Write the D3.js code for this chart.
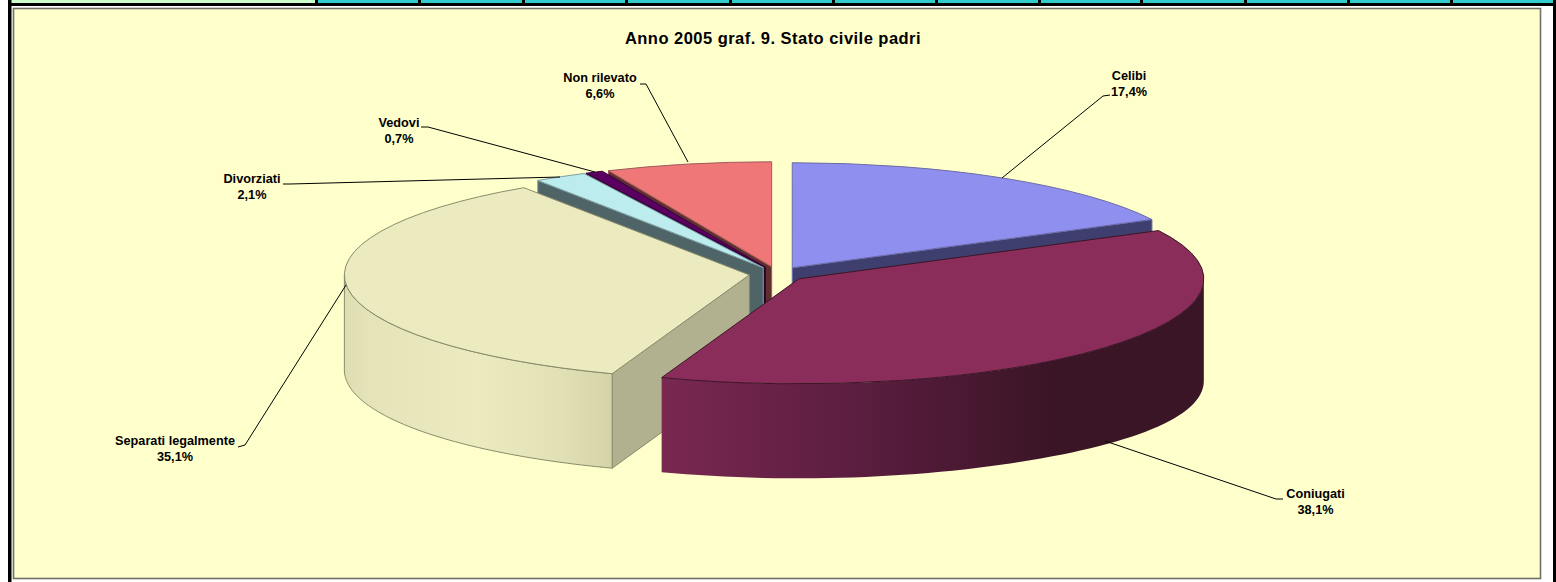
<!DOCTYPE html>
<html><head><meta charset="utf-8">
<script src="https://d3js.org/d3.v7.min.js"></script>
<style>html,body{margin:0;padding:0;background:#fff;overflow:hidden}svg{display:block}</style>
</head><body><div id="chart"></div>
<script>
// DATA
const categories = ["Celibi","Coniugati","Separati legalmente","Divorziati","Vedovi","Non rilevato"];
const percent = [17.4,38.1,35.1,2.1,0.7,6.6];
const percentLabels = ["17,4%","38,1%","35,1%","2,1%","0,7%","6,6%"];
const title = "Anno 2005 graf. 9. Stato civile padri";
const topColors = ["#8F8FEF","#8B2D5B","#ECEBBF","#BCECEE","#5A0060","#EF7777"];
const wallColors = ["#3F3F6F","#5c1e40","#B1B08F","#4F6466","#22002A","#5F2F30"];
const edgeColors = ["#6c6ca8","#3a1526","#8b8b6c","#7d9ea0","#3a0040","#a05a5a"];

// LAYOUT
const W=1556,H=582;
const cx=777.5,cy=274,rx=405,ry=105,explode=0.07,apexDepth=94;
const depthAt=a=>{const s=Math.sin(a);return 94.5+(s>0?7.5:0.5)*Math.pow(s,4);};
const labelCenters=[[1129,80],[1315.5,498],[175,445],[252,183],[399,127],[600,82]];
const leaders=[
 [[1110,95],[1103,96],[1002,178]],
 [[1283,499],[1276,499],[1105,441]],
 [[238,447],[245,445],[346,285]],
 [[283,184],[290,184],[560,177]],
 [[421,127],[428,127],[595,172]],
 [[640,84],[646,84],[688,162]]
];
const dividers=[11,316,419,523,626,730,833,936,1039,1141,1245,1348,1451,1553];

const svg=d3.select("#chart").append("svg").attr("width",W).attr("height",H);
const defs=svg.append("defs");
function hgrad(id,x1,x2,stops){
  const g=defs.append("linearGradient").attr("id",id).attr("gradientUnits","userSpaceOnUse")
    .attr("x1",x1).attr("x2",x2).attr("y1",0).attr("y2",0);
  stops.forEach(([o,c])=>g.append("stop").attr("offset",o).attr("stop-color",c));
}
hgrad("wall1",661,1205,[[0,"#7a2851"],[0.35,"#5c1e40"],[0.72,"#3a1526"],[1,"#3a1526"]]);
hgrad("wall2",343,612,[[0,"#DEDDB2"],[0.1,"#E5E4B8"],[0.5,"#ECEBBF"],[0.8,"#E2E1B5"],[1,"#D5D4A9"]]);

// page furniture
svg.append("g").selectAll("rect").data(d3.pairs(dividers)).join("rect")
  .attr("x",d=>d[0]).attr("y",0).attr("width",d=>d[1]-d[0]).attr("height",3)
  .attr("fill",(d,i)=>i===0?"#CCFFCC":"#33CCCC");
svg.append("g").selectAll("rect").data(dividers.slice(1,-1)).join("rect")
  .attr("x",d=>d-1).attr("y",0).attr("width",3).attr("height",4).attr("fill","#000");
svg.append("rect").attr("x",8).attr("y",3).attr("width",W-8).attr("height",3).attr("fill","#000");
svg.append("rect").attr("x",8).attr("y",0).attr("width",3.5).attr("height",H).attr("fill","#000");
svg.append("rect").attr("x",1553).attr("y",0).attr("width",3).attr("height",H).attr("fill","#000");
svg.append("rect").attr("x",13.5).attr("y",8.5).attr("width",1527).attr("height",570)
  .attr("fill","#FFFFCC").attr("stroke","#6f6f66").attr("stroke-width",1.6);

// pie
const pieData=d3.pie().sort(null).value(d=>d)(percent);
const pt=(c,a)=>[c[0]+rx*Math.sin(a),c[1]-ry*Math.cos(a)];
const low=(c,a)=>{const p=pt(c,a);return [p[0],p[1]+depthAt(a)];};
const line=d3.line();
const arc=d3.arc().innerRadius(0).outerRadius(100);
const slices=pieData.map(d=>{
  const mid=(d.startAngle+d.endAngle)/2;
  return {d,mid,i:d.index,c:[cx+explode*rx*Math.sin(mid),cy-explode*ry*Math.cos(mid)]};
}).sort((a,b)=>Math.cos(b.mid)-Math.cos(a.mid));

const g=svg.append("g");
slices.forEach(s=>{
  const {d,c,i}=s, a0=d.startAngle, a1=d.endAngle;
  const apexLow=[c[0],c[1]+apexDepth];
  const radial=a=>[c,pt(c,a),low(c,a),apexLow];
  if(Math.sin(a0)<-1e-6) g.append("path").attr("d",line(radial(a0))+"Z")
      .attr("fill",wallColors[i]).attr("stroke",edgeColors[i]).attr("stroke-width",1).attr("stroke-linejoin","round");
  if(Math.sin(a1)>1e-6) g.append("path").attr("d",line(radial(a1))+"Z")
      .attr("fill",wallColors[i]).attr("stroke",edgeColors[i]).attr("stroke-width",1).attr("stroke-linejoin","round");
  // outer wall for the front half of the ring
  const from=Math.max(a0,Math.PI/2), to=Math.min(a1,3*Math.PI/2);
  if(to>from){
    const as=d3.range(0,61).map(k=>from+(to-from)*k/60);
    const ring=as.map(a=>pt(c,a)).concat(as.slice().reverse().map(a=>low(c,a)));
    g.append("path").attr("d",line(ring)+"Z").attr("fill",i===1?"url(#wall1)":i===2?"url(#wall2)":wallColors[i])
      .attr("stroke",i===1?"none":edgeColors[i]).attr("stroke-width",1);
  }
  g.append("path").attr("d",arc({startAngle:a0,endAngle:a1}))
    .attr("transform",`translate(${c[0]},${c[1]}) scale(${rx/100},${ry/100})`)
    .attr("fill",topColors[i]).attr("stroke",edgeColors[i]).attr("stroke-width",1)
    .attr("vector-effect","non-scaling-stroke").style("vector-effect","non-scaling-stroke");
});

// leaders
svg.append("g").selectAll("path").data(leaders).join("path")
  .attr("d",d=>line(d)).attr("fill","none").attr("stroke","#000").attr("stroke-width",1);

// text
const font="'Liberation Sans',Arial,sans-serif";
svg.append("text").attr("x",773).attr("y",44).attr("text-anchor","middle")
  .attr("font-family",font).attr("font-weight","bold").attr("font-size",16.5).attr("letter-spacing",0.47).attr("fill","#000").text(title);
const labels=svg.append("g").selectAll("text").data(categories).join("text")
  .attr("text-anchor","middle").attr("font-family",font).attr("font-weight","bold").attr("font-size",12.7).attr("fill","#000");
labels.append("tspan").attr("x",(d,i)=>labelCenters[i][0]).attr("y",(d,i)=>labelCenters[i][1]).text(d=>d);
labels.append("tspan").attr("x",(d,i)=>labelCenters[i][0]).attr("y",(d,i)=>labelCenters[i][1]+15.5).text((d,i)=>percentLabels[i]);
</script></body></html>
